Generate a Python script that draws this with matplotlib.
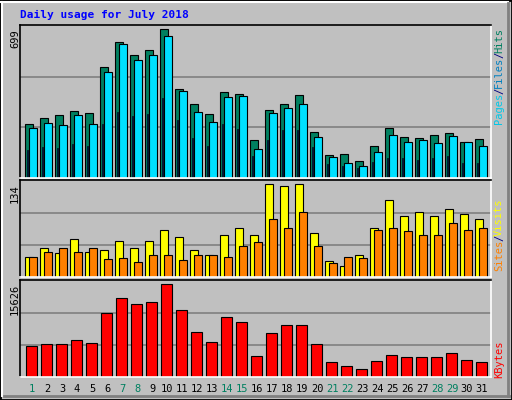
import matplotlib
matplotlib.use("Agg")
import matplotlib.pyplot as plt
import numpy as np
from matplotlib.patches import Rectangle

days = list(range(1, 32))
hits = [253,281,296,315,305,523,642,580,604,699,419,348,300,405,395,177,319,348,391,215,106,111,77,149,234,191,187,201,210,168,182]
files = [234,258,248,296,253,500,628,557,580,670,410,310,262,381,386,134,305,329,348,191,96,68,54,120,201,168,177,163,196,168,149]
pages = [130,144,139,158,149,253,310,291,300,376,272,187,149,253,229,101,177,225,225,144,63,54,44,73,92,92,82,92,101,68,68]
visits = [29,42,35,55,36,39,52,41,52,68,57,39,31,60,71,60,134,131,133,63,23,16,31,71,111,87,93,87,98,90,83]
sites = [29,36,42,36,42,26,28,22,32,32,25,32,32,29,44,50,83,70,93,44,20,29,28,68,71,66,61,60,77,68,71]
kbytes = [5190,5532,5532,6216,5703,10665,13231,12204,12547,15626,11178,7585,5874,10151,9296,3479,7414,8783,8783,5532,2452,1768,1426,2623,3650,3308,3308,3308,3992,2794,2452]
weekend = {1,7,8,14,15,21,22,28,29}

W, H = 512, 400
fig = plt.figure(figsize=(W/100, H/100), dpi=100)
fig.patch.set_facecolor('#C0C0C0')
BG = '#C0C0C0'
mono = 'DejaVu Sans Mono'

fig.add_artist(Rectangle((0, 0), 1, 1, transform=fig.transFigure, fill=False, edgecolor='black', lw=2))
fig.add_artist(plt.Line2D([1/W, 1-4/W], [1-2/H, 1-2/H], transform=fig.transFigure, color='white', lw=1.5))
fig.add_artist(plt.Line2D([2/W, 2/W], [4/H, 1-2/H], transform=fig.transFigure, color='white', lw=1.5))
fig.add_artist(plt.Line2D([4/W, 1-3/W], [4/H, 4/H], transform=fig.transFigure, color='#808080', lw=2))
fig.add_artist(plt.Line2D([1-4/W, 1-4/W], [4/H, 1-3/H], transform=fig.transFigure, color='#808080', lw=2))

def make_ax(top, bottom, ymax):
    x0, x1 = 20, 491
    ax = fig.add_axes([x0/W, 1-bottom/H, (x1-x0)/W, (bottom-top)/H])
    ax.set_facecolor(BG)
    ax.set_xlim(-0.353, 31.05)
    ax.set_ylim(0, ymax)
    ax.set_xticks([]); ax.set_yticks([])
    for s in ['top', 'left']:
        ax.spines[s].set_color('black')
    for s in ['bottom', 'right']:
        ax.spines[s].set_color('white')
    for s in ax.spines.values():
        s.set_linewidth(1.2)
    for f in (1/3, 2/3):
        ax.axhline(ymax*f*0.985, color='#808080', lw=1.2, zorder=0)
    return ax

x = np.arange(31)
ax1 = make_ax(25, 177.5, 720)
ax1.bar(x, hits, width=0.49, align='edge', color='#008060', edgecolor='black', lw=0.8)
ax1.bar(x+0.27, files, width=0.49, align='edge', color='#00E0FF', edgecolor='black', lw=0.8)
ax1.bar(x+0.13, pages, width=0.08, align='edge', color='#0040FF', edgecolor='black', lw=0.5)

ax2 = make_ax(179.5, 277, 140)
ax2.bar(x, visits, width=0.49, align='edge', color='#FFFF00', edgecolor='black', lw=0.8)
ax2.bar(x+0.27, sites, width=0.49, align='edge', color='#FF8000', edgecolor='black', lw=0.8)

ax3 = make_ax(279.5, 377, 16360)
ax3.bar(x+0.07, kbytes, width=0.69, align='edge', color='#FF0000', edgecolor='black', lw=0.8)

fs = 7.5
fig.text(20/W, 1-15/H, 'Daily usage for July 2018', color='#0000FF', fontsize=8, fontweight='bold', family=mono, va='center', ha='left')
fig.text(15/W, 1-29/H, str(max(hits)), rotation=90, fontsize=fs, family=mono, va='top', ha='center')
fig.text(15/W, 1-184/H, str(max(visits)), rotation=90, fontsize=fs, family=mono, va='top', ha='center')
fig.text(15/W, 1-284/H, str(max(kbytes)), rotation=90, fontsize=fs, family=mono, va='top', ha='center')

renderer = fig.canvas.get_renderer()
def right_label(parts, top):
    y = H - top
    for txt, col in parts:
        t = fig.text(499/W, y/H, txt, rotation=90, color=col, fontsize=fs, family=mono, va='top', ha='center')
        bb = t.get_window_extent(renderer)
        y -= bb.height - 1
right_label([('Hits', '#008060'), ('/', '#000080'), ('Files', '#0080C0'), ('/', '#000080'), ('Pages', '#00C8E8')], 28)
right_label([('Visits', '#FFFF00'), ('/', '#000080'), ('Sites', '#FF8000')], 198)
right_label([('KBytes', '#FF0000')], 340)

for i, d in enumerate(days):
    col = '#008060' if d in weekend else 'black'
    xp = ax3.transData.transform((i+0.45, 0))[0]
    fig.text(xp/W, 1-389/H, str(d), color=col, fontsize=fs, family=mono, ha='center', va='center')

fig.savefig('out.png', dpi=100, facecolor=fig.get_facecolor())
